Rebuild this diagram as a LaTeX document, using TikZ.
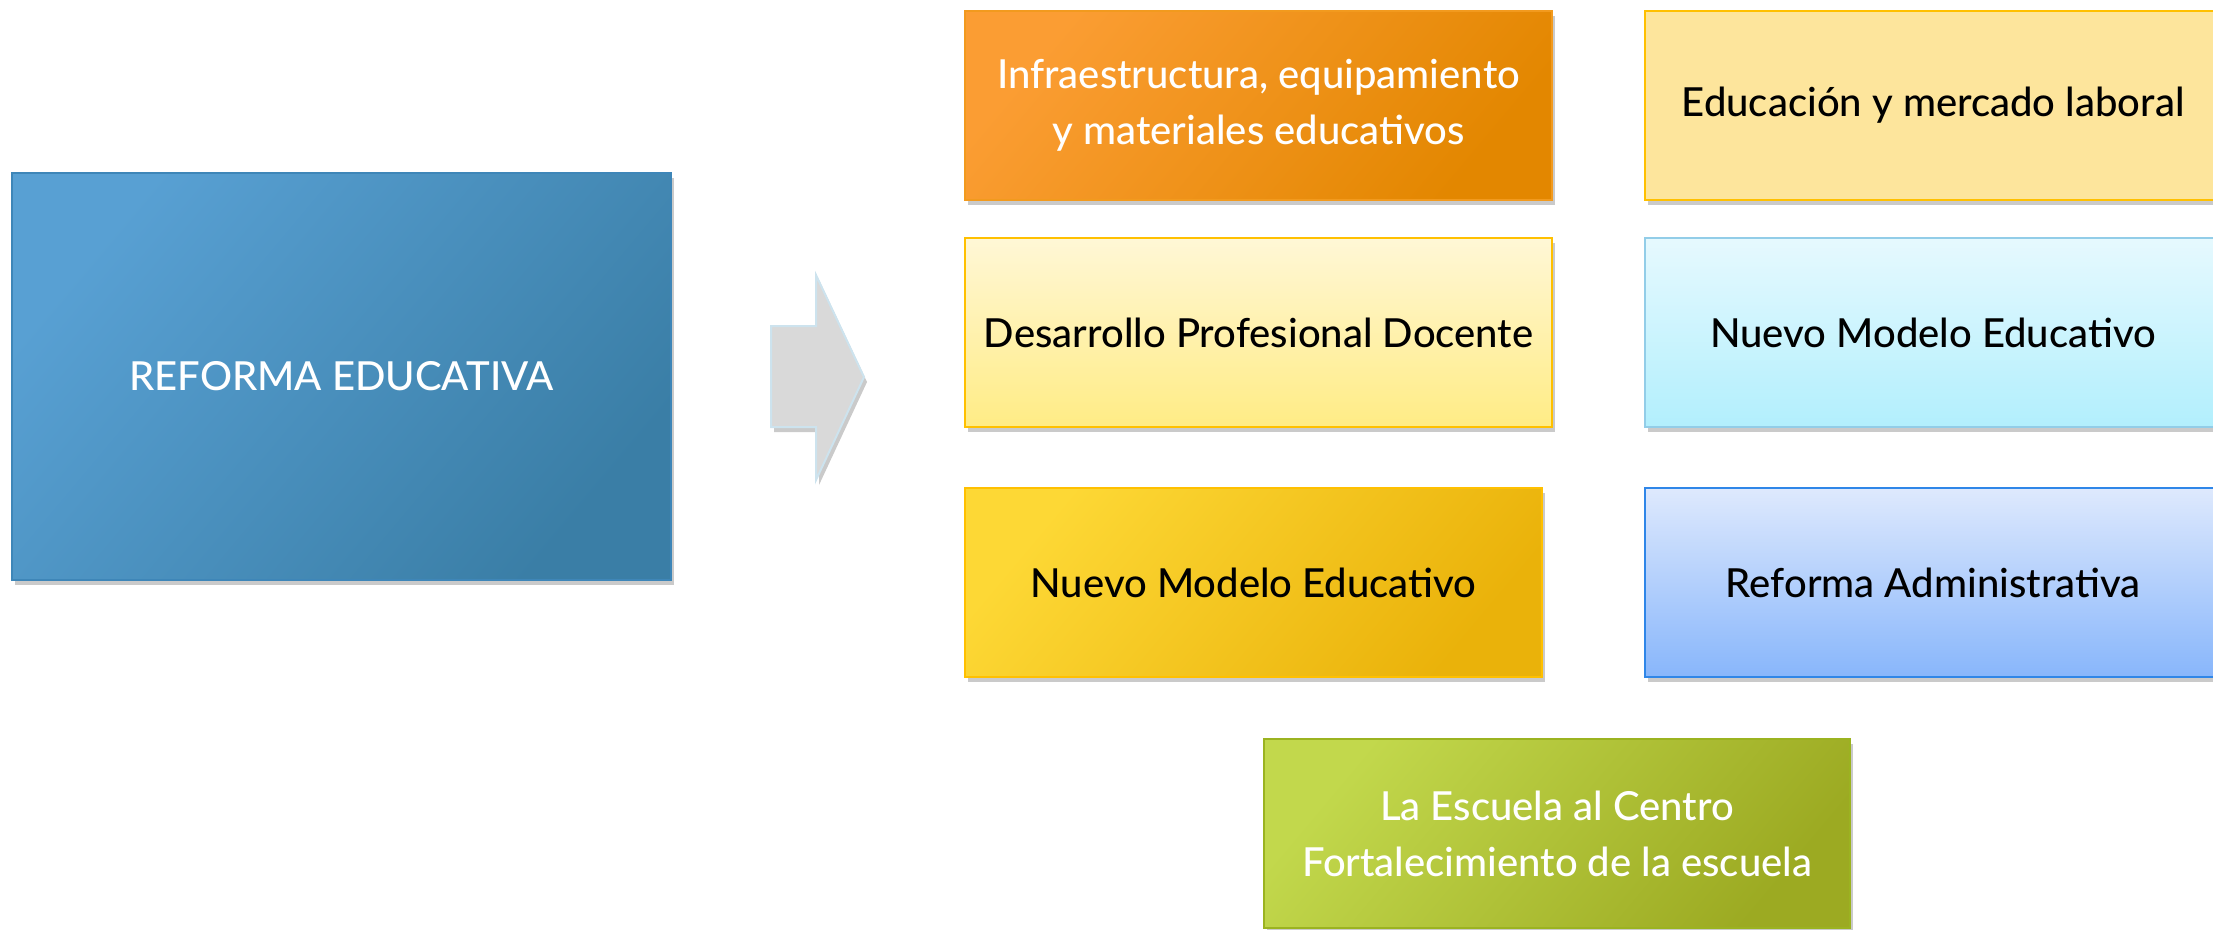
\documentclass[tikz,border=0pt]{standalone}
\usepackage{fontspec}
\setmainfont{Lato Medium}
\usetikzlibrary{shadows}
\definecolor{mainA}{HTML}{58A0D3}
\definecolor{mainB}{HTML}{3A7EA6}
\definecolor{mainE}{HTML}{3E86B8}
\definecolor{infA}{HTML}{FB9D33}
\definecolor{infB}{HTML}{E38700}
\definecolor{infE}{HTML}{F29A1E}
\definecolor{eduF}{HTML}{FDE59C}
\definecolor{goldE}{HTML}{FFC000}
\definecolor{desA}{HTML}{FFF7D6}
\definecolor{desB}{HTML}{FFEC85}
\definecolor{cyA}{HTML}{E6F9FE}
\definecolor{cyB}{HTML}{B2EFFD}
\definecolor{cyE}{HTML}{92CDE8}
\definecolor{yeA}{HTML}{FDD835}
\definecolor{yeB}{HTML}{EAB20A}
\definecolor{blA}{HTML}{DEE9FD}
\definecolor{blB}{HTML}{88B6FB}
\definecolor{blE}{HTML}{2F86E8}
\definecolor{grA}{HTML}{C2D84C}
\definecolor{grB}{HTML}{9CAA22}
\definecolor{grE}{HTML}{9BB320}
\definecolor{arF}{HTML}{D9D9D9}
\definecolor{arE}{HTML}{CDE3EE}
\tikzset{
  shad/.style={drop shadow={shadow xshift=3pt, shadow yshift=-5pt, opacity=0.35, fill=black!60}},
  box/.style={rectangle, anchor=north west, inner sep=0pt, align=center,
    line width=2pt, font=\fontsize{40}{56}\selectfont, shad},
  diag/.style 2 args={top color=#1, bottom color=#2, shading angle=50},
}
\begin{document}
\begin{tikzpicture}[x=1pt,y=-1pt]
\useasboundingbox (0,0) rectangle (2213,929);
\clip (0,0) rectangle (2213,929);
% main box
\node[box, draw=mainE, diag={mainA}{mainB}, minimum width=659pt, minimum height=407pt,
  text=white] (main) at (11,172) {REFORMA EDUCATIVA};
% arrow
\draw[fill=arF, draw=arE, line width=2pt, shad]
  (771,326) -- (816,326) -- (816,275) -- (864,377) -- (816,480) -- (816,427) -- (771,427) -- cycle;
% right boxes
\node[box, draw=infE, diag={infA}{infB}, minimum width=587pt, minimum height=189pt,
  text=white] (infra) at (964,10) {Infraestructura, equipamiento\\y materiales educativos};
\node[box, draw=goldE, fill=eduF, minimum width=576pt, minimum height=189pt]
  (edu) at (1644,10) {Educación y mercado laboral};
\node[box, draw=goldE, top color=desA, bottom color=desB, minimum width=587pt, minimum height=189pt]
  (des) at (964,237) {Desarrollo Profesional Docente};
\node[box, draw=cyE, top color=cyA, bottom color=cyB, minimum width=576pt, minimum height=189pt]
  (nme1) at (1644,237) {Nuevo Modelo Educativo};
\node[box, draw=goldE, diag={yeA}{yeB}, minimum width=577pt, minimum height=189pt]
  (nme2) at (964,487) {Nuevo Modelo Educativo};
\node[box, draw=blE, top color=blA, bottom color=blB, minimum width=576pt, minimum height=189pt]
  (radm) at (1644,487) {Reforma Administrativa};
\node[box, draw=grE, diag={grA}{grB}, minimum width=586pt, minimum height=189pt,
  text=white] (esc) at (1263,738) {La Escuela al Centro\\Fortalecimiento de la escuela};
\end{tikzpicture}
\end{document}
